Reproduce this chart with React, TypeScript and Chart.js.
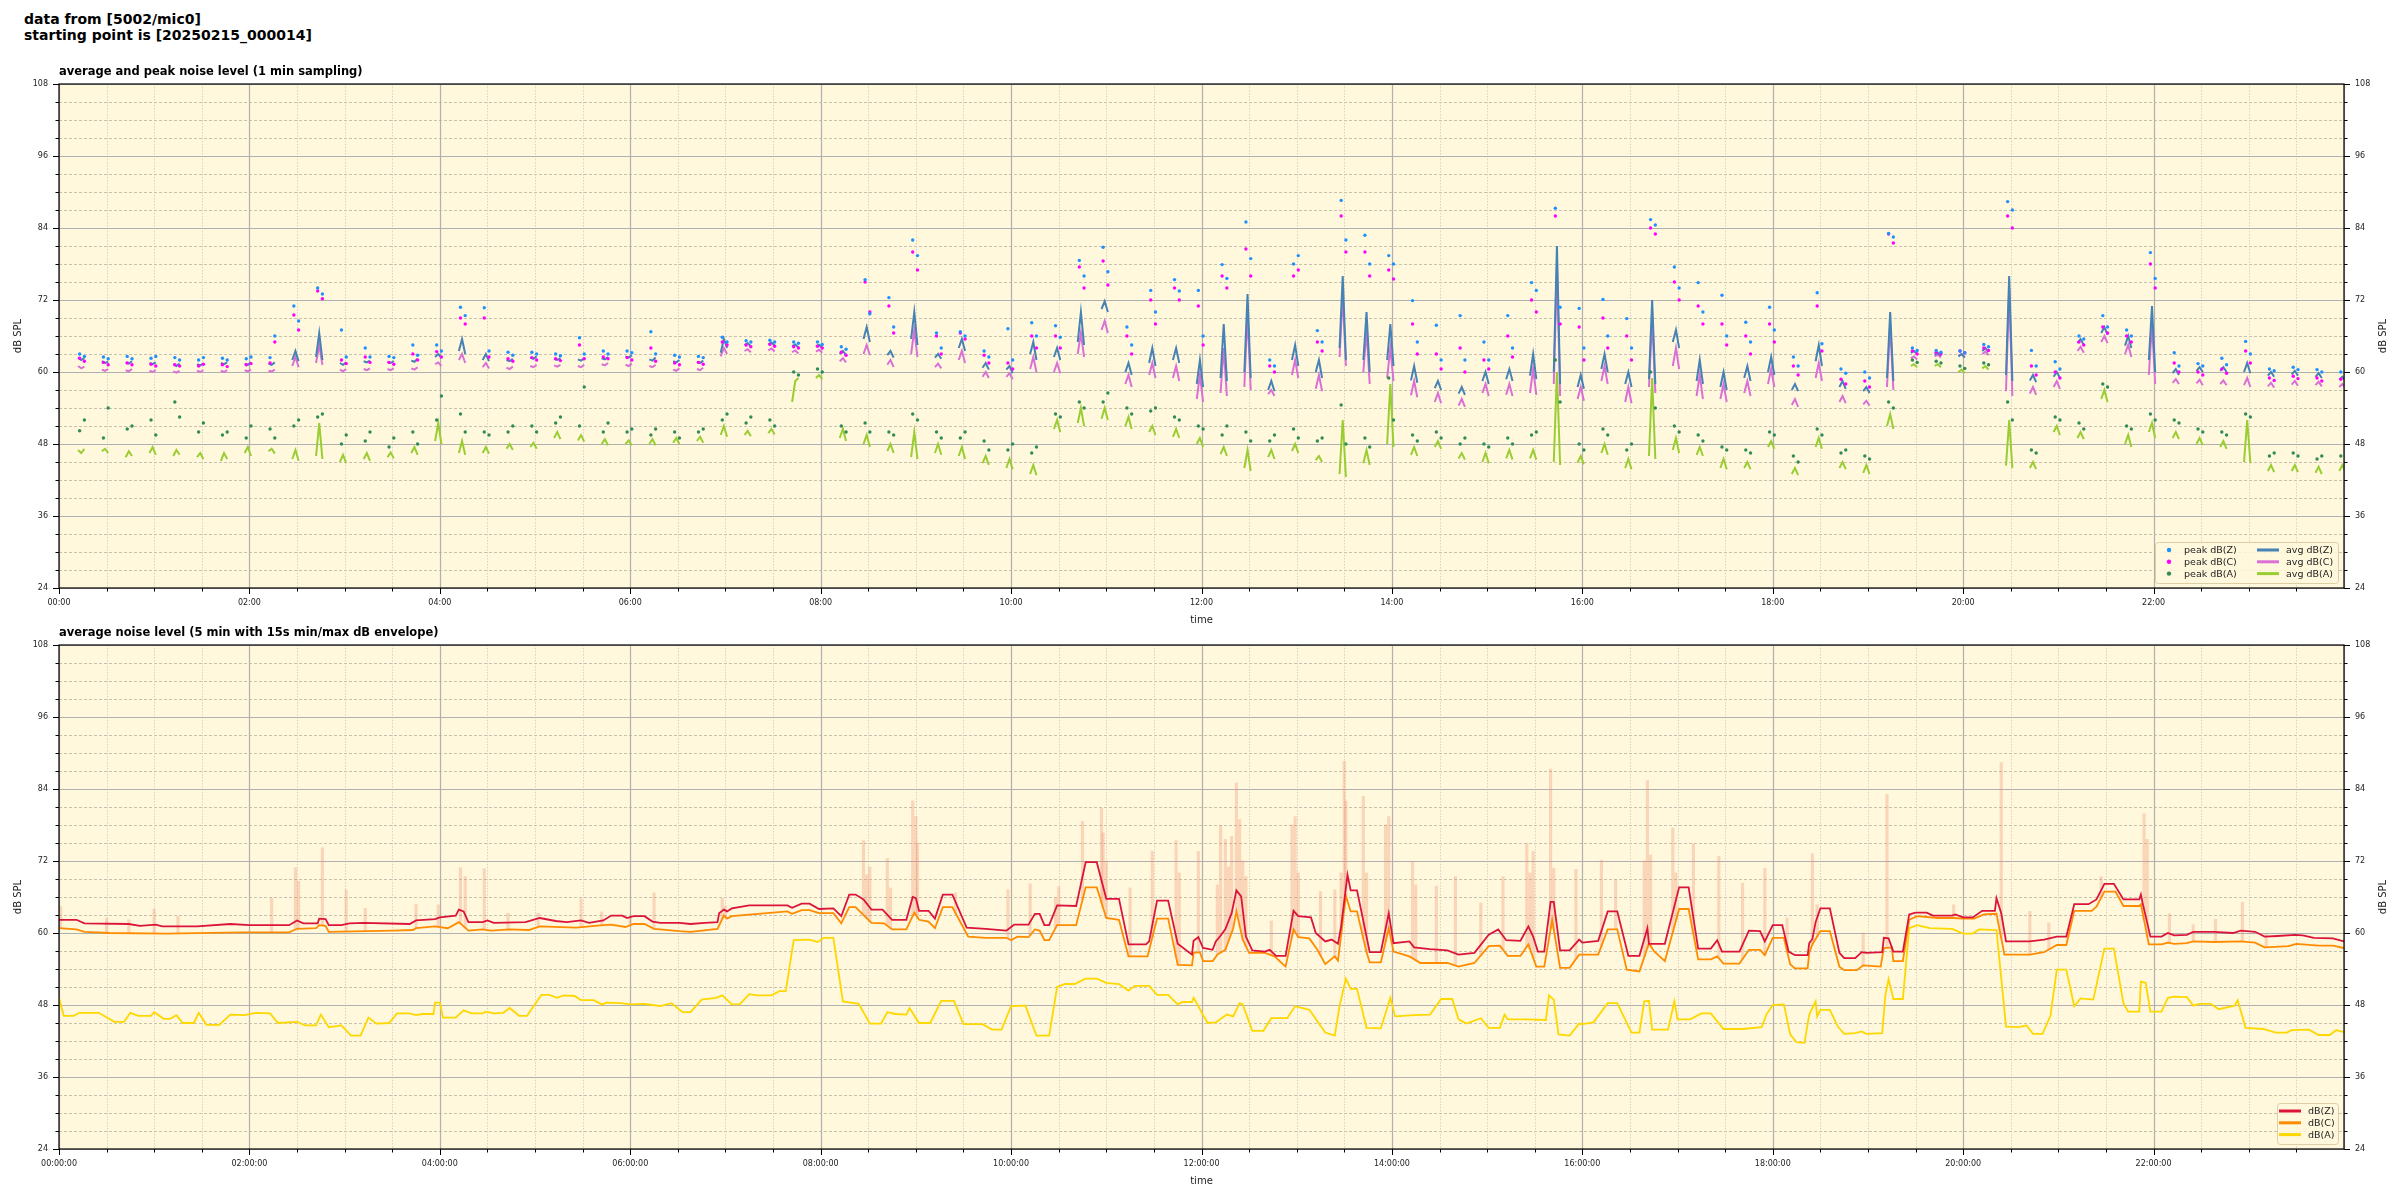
import React, { useEffect, useRef } from "react";
import { Chart, registerables } from "chart.js";

Chart.register(...registerables);

const FONT = "'DejaVu Sans', 'Liberation Sans', sans-serif";
const BG = "#fff8dc";

const Y_MIN = 24;
const Y_MAX = 108;
const Y_MAJOR = 12;
const Y_MINOR = 3;
const X_MIN = 0;
const X_MAX = 1440;
const X_MAJOR = 120;
const X_MINOR = 30;
const SAMPLE_STEP = 2; // minutes between drawn samples inside a cluster

const SUPTITLE = ["data from [5002/mic0]", "starting point is [20250215_000014]"];
const TOP_TITLE = "average and peak noise level (1 min sampling)";
const BOTTOM_TITLE = "average noise level (5 min with 15s min/max dB envelope)";
const Y_TITLE = "dB SPL";
const X_TITLE = "time";

// ---------- top chart: 1-minute samples, measured in clusters every 15 minutes ----------
const clusterStarts: number[] = Array.from({ length: 96 }, (_, k) => 12 + 15 * k);

const avgZ: number[][] = [
  [62.4,62.0,62.3],[61.8,61.5,61.7],[61.6,61.4,61.8],[61.5,61.3,61.6],[61.3,61.0,61.4],[61.3,61.1,61.4],[61.5,61.3,61.6],[61.4,61.2,61.6],
  [61.4,61.2,61.6],[62.0,63.5,61.8],[62.5,66.5,62.0],[61.5,61.2,61.6],[61.8,61.6,61.9],[61.7,61.5,61.8],[61.9,61.7,62.2],[62.5,63.0,62.3],
  [63.5,65.5,63.0],[62.0,63.0,61.8],[62.0,61.8,62.2],[62.4,62.2,62.6],[62.2,62.0,62.3],[62.1,61.9,62.3],[62.3,62.1,62.5],[62.6,62.4,62.8],
  [62.1,61.9,62.4],[61.8,61.6,62.0],[61.7,61.5,61.9],[63.2,65.5,64.0],[64.5,64.8,64.3],[64.6,64.9,64.4],[64.3,64.6,64.1],[64.3,64.5,64.0],
  [63.0,63.5,62.8],[65.5,67.5,65.0],[62.8,63.5,62.4],[65.5,70.0,64.5],[62.4,63.0,62.2],[64.0,65.5,63.5],[60.7,61.5,60.4],[60.4,61.0,59.8],
  [63.0,65.0,62.0],[62.5,64.0,62.0],[65.0,70.0,64.5],[70.5,71.8,70.0],[60.0,61.5,59.5],[61.5,64.0,61.0],[62.0,64.0,61.5],[58.0,62.0,57.5],
  [59.0,68.0,58.5],[60.0,73.0,59.0],[57.0,58.5,56.8],[62.0,64.5,61.0],[60.0,62.0,59.0],[64.0,76.0,62.0],[62.0,70.0,60.0],[62.0,68.0,61.0],
  [58.6,61.0,58.2],[57.3,58.5,57.0],[56.4,57.5,56.2],[58.5,60.0,58.0],[58.8,60.5,58.5],[59.4,63.0,58.8],[60.0,81.0,58.0],[57.5,59.5,57.2],
  [60.5,63.0,60.0],[58.0,60.0,57.5],[58.8,72.0,58.0],[65.0,67.0,64.0],[58.5,62.0,58.0],[57.5,60.0,57.0],[59.0,61.0,58.5],[60.0,62.5,59.5],
  [57.0,58.0,56.8],[61.8,64.5,61.0],[57.5,58.5,57.2],[56.8,57.5,56.5],[59.0,70.0,58.5],[63.2,63.5,63.0],[62.9,63.2,62.7],[62.6,63.0,62.4],
  [63.5,64.0,63.3],[59.5,76.0,58.5],[58.6,59.5,58.3],[59.2,60.0,59.0],[64.8,65.5,64.5],[66.5,67.5,66.2],[64.4,66.0,64.0],[62.0,71.0,60.0],
  [59.8,60.5,59.5],[60.2,60.8,60.0],[60.2,60.8,60.0],[60.0,61.5,59.8],[59.4,60.0,59.2],[59.6,60.2,59.4],[59.2,59.8,59.0],[58.7,59.2,58.5],
];

const avgC: number[][] = [
  [61.0,60.6,60.9],[60.4,60.2,60.5],[60.3,60.1,60.5],[60.2,60.0,60.3],[60.1,59.9,60.2],[60.2,60.0,60.3],[60.2,60.0,60.3],[60.3,60.1,60.4],
  [60.2,60.1,60.4],[61.0,62.5,60.8],[61.5,64.5,61.2],[60.4,60.1,60.5],[60.5,60.3,60.6],[60.5,60.3,60.6],[60.6,60.4,60.8],[61.3,61.6,61.0],
  [62.0,63.0,61.5],[60.8,61.5,60.6],[60.7,60.5,60.9],[61.0,60.8,61.2],[61.1,60.9,61.2],[61.0,60.8,61.2],[61.3,61.1,61.5],[61.2,61.0,61.4],
  [61.0,60.8,61.2],[60.4,60.2,60.6],[60.5,60.3,60.7],[62.6,64.0,63.0],[63.5,63.8,63.3],[63.6,63.9,63.4],[63.3,63.6,63.1],[63.4,63.7,63.2],
  [61.8,62.3,61.6],[63.0,64.5,62.8],[61.2,62.0,60.8],[63.0,67.0,62.5],[60.8,61.4,60.6],[62.0,63.5,61.5],[59.2,60.0,59.0],[59.2,59.8,58.8],
  [60.5,62.5,60.0],[60.0,61.5,59.8],[63.0,66.5,62.5],[67.0,68.5,66.5],[58.0,59.5,57.5],[59.5,61.5,59.0],[59.0,61.0,58.5],[55.5,59.5,55.0],
  [56.5,64.0,56.0],[57.5,70.0,57.0],[56.3,57.0,56.0],[59.5,62.0,59.0],[57.2,59.5,56.8],[62.5,73.0,61.0],[60.0,67.0,58.0],[59.0,64.0,58.5],
  [56.1,58.5,55.8],[55.0,56.5,54.8],[54.4,55.5,54.2],[56.5,58.0,56.0],[56.2,58.0,56.0],[56.5,60.5,56.2],[58.0,77.5,56.0],[55.5,57.5,55.2],
  [58.5,61.0,58.0],[55.0,57.5,54.8],[57.5,69.0,56.5],[61.0,64.0,60.5],[56.0,59.5,55.5],[55.5,58.0,55.0],[56.5,58.5,56.0],[58.0,60.5,57.5],
  [54.5,55.5,54.2],[59.0,61.5,58.5],[55.0,56.0,54.8],[54.6,55.2,54.4],[57.5,68.0,57.0],[62.3,62.6,62.1],[62.6,62.9,62.4],[62.7,63.0,62.5],
  [63.0,63.4,62.8],[56.8,74.0,56.0],[56.4,57.5,56.2],[57.5,58.5,57.2],[63.5,64.2,63.2],[65.0,66.0,64.8],[63.0,64.5,62.5],[59.5,68.0,58.0],
  [58.2,58.8,58.0],[58.1,58.7,57.8],[58.0,58.6,57.8],[57.8,59.0,57.5],[57.6,58.2,57.4],[57.9,58.5,57.7],[57.8,58.4,57.6],[57.5,58.0,57.3],
];

const avgA: number[][] = [
  [47.0,46.5,47.2],[46.8,47.2,46.5],[45.8,46.8,46.0],[46.5,47.5,46.2],[46.0,47.0,46.2],[45.8,46.5,45.5],[45.2,46.5,45.5],[46.5,47.5,46.0],
  [46.8,47.2,46.4],[45.5,47.0,45.2],[46.0,51.5,45.5],[45.0,46.2,44.8],[45.5,46.5,45.2],[45.8,46.6,45.6],[46.5,47.5,46.2],[48.5,51.5,48.0],
  [46.5,48.5,46.2],[46.5,47.5,46.4],[47.2,48.0,47.0],[47.5,48.2,47.2],[49.0,50.0,48.8],[48.6,49.5,48.4],[48.0,48.8,47.8],[48.0,48.6,47.8],
  [48.0,48.8,47.8],[48.2,49.0,48.0],[48.5,49.2,48.2],[49.5,51.0,49.2],[49.5,50.2,49.3],[49.8,50.5,49.6],[55.0,58.5,59.0],[59.0,59.5,58.8],
  [49.0,50.5,48.5],[48.0,49.5,47.5],[46.8,48.0,46.5],[45.8,50.0,45.5],[46.5,48.0,46.2],[46.0,47.5,45.5],[44.8,46.0,44.5],[44.0,45.5,43.8],
  [43.0,44.5,42.8],[50.5,52.0,50.0],[51.5,54.0,51.0],[52.2,54.0,52.0],[51.0,52.5,50.5],[50.0,51.0,49.5],[49.2,50.5,49.0],[48.0,49.0,47.5],
  [46.3,47.5,46.0],[44.0,47.0,43.5],[45.8,47.0,45.5],[46.8,48.0,46.5],[45.3,46.0,45.0],[43.0,52.0,42.5],[44.8,47.0,44.5],[48.0,58.0,47.5],
  [46.2,47.5,46.0],[47.5,48.5,47.2],[45.6,46.5,45.4],[45.0,46.5,44.8],[45.6,47.0,45.4],[45.6,47.0,45.4],[45.0,60.0,44.5],[44.9,46.0,44.6],
  [46.5,48.0,46.2],[44.0,45.5,43.8],[46.0,59.0,45.5],[47.0,49.0,46.5],[46.2,47.5,46.0],[44.0,45.5,43.8],[44.0,45.0,43.8],[47.5,48.5,47.2],
  [43.0,44.0,42.8],[47.5,49.0,47.2],[44.0,45.0,43.8],[43.2,44.5,43.0],[51.0,53.0,50.5],[61.0,61.3,60.8],[61.0,61.3,60.8],[60.0,60.4,59.8],
  [60.6,61.0,60.4],[44.4,52.0,44.0],[44.0,45.0,43.8],[50.0,51.0,49.5],[49.0,50.0,48.8],[55.5,57.0,55.0],[48.0,49.5,47.5],[50.0,51.5,49.0],
  [49.0,50.0,48.8],[48.0,49.0,47.8],[47.5,48.5,47.2],[45.0,52.0,44.8],[43.5,44.5,43.3],[43.5,44.5,43.3],[43.2,44.2,43.0],[43.5,44.5,43.3],
];

const peakZ: number[][] = [
  [63.0,62.6],[62.5,62.2],[62.6,62.2],[62.3,62.6],[62.4,62.0],[62.0,62.4],[62.3,62.0],[62.2,62.5],
  [62.4,66.0],[71.0,68.5],[74.0,73.0],[67.0,62.5],[64.0,62.5],[62.6,62.4],[64.5,62.8],[64.5,63.5],
  [70.8,69.4],[70.7,63.5],[63.3,62.8],[63.3,63.0],[63.0,62.7],[65.7,63.0],[63.5,63.0],[63.5,63.2],
  [66.7,63.0],[62.8,62.5],[62.6,62.4],[65.8,65.0],[65.2,65.0],[65.3,65.0],[65.0,64.8],[65.0,64.6],
  [64.2,63.8],[75.4,69.7],[72.4,67.5],[82.0,79.4],[66.5,64.0],[66.7,66.0],[63.5,62.5],[67.2,62.0],
  [68.2,66.0],[67.7,65.8],[78.6,76.0],[80.8,76.7],[67.5,64.5],[73.6,70.0],[75.4,73.5],[73.6,66.0],
  [77.9,75.6],[85.0,78.9],[62.0,61.0],[78.0,79.4],[66.9,65.0],[88.6,82.0],[82.8,78.0],[79.4,78.0],
  [71.9,65.0],[67.8,62.0],[69.4,62.0],[65.0,62.0],[69.4,64.0],[74.9,73.6],[87.3,70.8],[70.6,64.0],
  [72.1,66.0],[68.9,64.0],[85.4,84.5],[77.5,74.0],[74.9,70.0],[72.8,66.0],[68.3,65.0],[70.8,67.0],
  [62.5,61.0],[73.2,64.7],[60.5,59.8],[60.0,59.0],[83.1,82.5],[64.0,63.6],[63.6,63.3],[63.5,63.2],
  [64.6,64.2],[88.4,87.0],[63.6,61.0],[61.7,60.5],[66.0,65.5],[69.4,67.5],[67.0,66.0],[79.9,75.6],
  [63.2,61.0],[61.4,61.0],[62.3,61.2],[65.1,63.0],[60.5,60.2],[60.8,60.4],[60.4,60.0],[60.0,59.6],
];

const peakC: number[][] = [
  [62.3,61.8],[61.6,61.2],[61.5,61.2],[61.3,61.0],[61.2,61.0],[61.0,61.3],[61.2,60.9],[61.2,61.4],
  [61.5,65.0],[69.5,67.0],[73.5,72.2],[62.0,61.4],[62.5,61.6],[61.6,61.3],[63.0,62.0],[63.4,62.5],
  [69.0,68.0],[69.0,62.5],[62.2,61.8],[62.4,62.0],[62.2,61.9],[64.5,62.2],[62.5,62.2],[62.4,62.0],
  [64.0,61.8],[61.5,61.2],[61.6,61.3],[65.0,64.5],[64.5,64.2],[64.6,64.3],[64.2,64.0],[64.3,64.0],
  [63.3,62.8],[75.0,70.0],[71.0,66.5],[80.0,77.0],[66.0,63.0],[66.5,65.5],[62.8,61.5],[61.5,60.5],
  [66.0,64.0],[66.0,64.0],[77.5,74.0],[78.5,74.5],[66.0,63.0],[72.0,68.0],[74.0,72.0],[71.0,64.5],
  [76.0,74.0],[80.5,76.0],[61.0,60.0],[76.0,77.0],[65.0,63.5],[86.0,80.0],[80.0,76.0],[77.0,75.5],
  [68.0,63.0],[63.0,60.5],[64.0,60.0],[62.0,60.5],[66.0,62.5],[72.0,70.0],[86.0,68.0],[67.5,62.0],
  [69.0,64.0],[66.0,62.0],[84.0,83.0],[75.0,72.0],[71.0,68.0],[68.0,64.5],[66.0,63.0],[68.0,65.0],
  [61.0,59.5],[71.0,63.5],[58.8,58.0],[58.5,57.5],[83.0,81.5],[63.5,63.0],[63.3,63.0],[63.5,63.2],
  [64.0,63.6],[86.0,84.0],[61.0,59.5],[60.0,59.0],[65.0,64.5],[67.5,66.5],[66.0,65.0],[78.0,74.0],
  [61.5,60.0],[60.0,59.5],[60.5,59.8],[63.5,61.5],[59.0,58.6],[59.3,58.9],[59.0,58.5],[58.8,58.4],
];

const peakA: number[][] = [
  [50.2,52.0],[49.0,54.0],[50.5,51.0],[52.0,49.5],[55.0,52.5],[50.0,51.5],[49.5,50.0],[49.0,51.0],
  [50.5,49.0],[51.0,52.0],[52.5,53.0],[48.0,49.5],[48.5,50.0],[47.5,49.0],[50.0,48.0],[52.0,56.0],
  [53.0,50.0],[50.0,49.5],[50.0,51.0],[51.0,50.0],[51.5,52.5],[51.0,57.5],[50.0,51.5],[50.0,50.5],
  [49.5,50.5],[50.0,49.0],[50.0,50.5],[52.0,53.0],[51.5,52.5],[52.0,51.0],[60.0,59.5],[60.5,60.0],
  [51.0,50.0],[51.5,50.0],[50.0,49.5],[53.0,52.0],[50.0,49.0],[49.0,50.0],[48.5,47.0],[47.0,48.0],
  [46.5,47.5],[53.0,52.5],[55.0,54.0],[55.0,56.5],[54.0,53.0],[53.5,54.0],[52.5,52.0],[51.0,50.5],
  [49.5,51.0],[50.0,48.5],[48.5,49.5],[50.5,49.0],[48.5,49.0],[54.5,48.0],[49.0,47.5],[59.0,52.0],
  [49.5,48.5],[50.0,49.0],[48.0,49.0],[48.0,47.5],[49.0,48.0],[49.5,50.0],[62.0,55.0],[48.0,47.0],
  [50.5,49.5],[47.0,48.0],[60.0,54.0],[51.0,50.0],[49.5,48.5],[47.5,47.0],[47.0,46.5],[50.0,49.5],
  [46.0,45.0],[50.5,49.5],[46.5,47.0],[46.0,45.5],[55.0,54.0],[62.0,61.6],[61.8,61.5],[61.0,60.6],
  [61.5,61.2],[55.0,52.0],[47.0,46.5],[52.5,52.0],[51.5,50.5],[58.0,57.5],[51.0,50.5],[53.0,52.0],
  [52.0,51.5],[50.5,50.0],[50.0,49.5],[53.0,52.5],[46.0,46.5],[46.5,46.0],[45.5,46.0],[46.0,45.5],
];

// ---------- bottom chart: 5-minute averages [minute, dB] ----------
const dbZ5: [number, number][] = [
  [0,62.2],[11,62.2],[16,61.6],[44,61.5],[51,61.2],[61,61.4],[65,61.1],[87,61.1],[108,61.5],[120,61.3],[145,61.3],[150,62.1],
  [154,61.6],[163,61.6],[164,62.4],[168,62.3],[170,61.3],[178,61.3],[183,61.6],[192,61.7],[221,61.5],[225,62.1],[237,62.3],[240,62.6],
  [250,62.9],[252,63.9],[255,63.6],[258,61.8],[267,61.8],[270,62.1],[274,61.7],[294,61.8],[303,62.5],[313,62.0],[320,61.8],[329,62.1],
  [334,61.7],[343,62.1],[348,62.9],[355,62.9],[358,62.5],[362,62.8],[369,62.8],[374,61.9],[379,61.7],[391,61.7],[398,61.5],[407,61.7],
  [415,61.8],[416,63.3],[419,63.9],[421,63.6],[424,64.1],[435,64.6],[459,64.6],[462,64.2],[468,64.9],[473,64.9],[479,64.0],[488,64.1],
  [493,62.8],[498,66.4],[502,66.4],[507,65.6],[512,63.9],[519,63.9],[525,62.2],[534,62.2],[538,66.0],[540,65.8],[542,63.7],[548,63.7],
  [552,62.4],[557,66.4],[563,66.4],[572,60.9],[584,60.7],[597,60.4],[599,60.8],[602,61.4],[611,61.4],[615,63.2],[618,63.2],[621,61.3],
  [624,61.3],[629,64.6],[641,64.5],[647,71.8],[654,71.8],[660,65.7],[668,65.7],[674,58.1],[685,58.1],[687,58.6],[692,65.4],[699,65.4],
  [705,58.2],[714,56.4],[715,58.7],[718,59.3],[721,57.5],[727,57.2],[729,58.6],[731,59.2],[735,60.6],[739,63.3],[742,67.1],[745,66.1],
  [748,59.4],[752,57.1],[760,56.9],[763,57.2],[767,56.2],[773,56.2],[778,63.7],[781,62.8],[789,62.6],[792,60.0],[798,58.6],[802,58.9],
  [806,58.2],[808,61.1],[812,69.7],[814,67.1],[818,67.1],[821,63.3],[826,56.8],[833,56.8],[838,63.3],[841,58.3],[851,58.6],[854,57.6],
  [864,57.3],[875,57.1],[882,56.4],[892,56.7],[901,59.7],[907,60.6],[912,58.8],[921,58.7],[926,61.1],[929,59.4],[932,56.9],[936,56.9],
  [940,65.2],[942,65.2],[946,57.1],[952,57.1],[958,58.9],[960,58.4],[970,58.7],[976,63.6],[982,63.6],[989,56.2],[996,56.2],[1001,60.8],
  [1002,58.2],[1012,58.2],[1021,67.6],[1027,67.6],[1033,57.4],[1041,57.4],[1045,58.8],[1048,56.9],[1059,56.9],[1065,60.4],[1072,60.3],
  [1075,58.6],[1080,61.3],[1086,61.3],[1090,56.9],[1094,56.3],[1102,56.3],[1103,58.3],[1105,59.0],[1107,61.8],[1110,64.1],[1116,64.1],
  [1122,56.7],[1125,55.8],[1132,55.8],[1136,56.8],[1139,56.7],[1149,56.8],[1150,59.2],[1153,59.1],[1156,56.9],[1162,56.9],[1166,63.1],
  [1170,63.4],[1177,63.4],[1181,62.9],[1193,62.9],[1195,63.1],[1200,62.6],[1206,62.6],[1212,63.7],[1220,63.7],[1221,65.8],[1224,63.3],
  [1227,58.6],[1242,58.6],[1251,58.9],[1259,59.4],[1265,59.4],[1270,64.8],[1279,64.8],[1284,65.6],[1289,68.2],[1295,68.2],[1301,65.6],
  [1311,65.6],[1312,66.4],[1313,65.1],[1318,59.4],[1325,59.4],[1329,60.0],[1333,59.6],[1341,59.7],[1345,60.2],[1358,60.2],[1370,60.0],
  [1375,60.4],[1384,60.2],[1390,59.4],[1398,59.5],[1409,59.7],[1414,59.6],[1421,59.2],[1433,59.1],[1440,58.6],
];

const dbC5: [number, number][] = [
  [0,60.8],[11,60.6],[16,60.2],[32,60.0],[68,59.9],[115,60.1],[145,60.1],[150,60.7],[162,60.8],[164,61.3],[168,61.2],[170,60.2],
  [210,60.4],[223,60.5],[225,60.8],[237,61.1],[245,60.8],[252,61.8],[258,60.4],[267,60.6],[272,60.4],[284,60.6],[296,60.5],[303,61.1],
  [326,60.9],[343,61.3],[348,61.4],[357,61.0],[362,61.5],[369,61.5],[375,60.7],[391,60.3],[398,60.2],[415,60.7],[419,62.9],[421,62.4],
  [424,62.8],[459,63.6],[462,63.2],[468,63.8],[473,63.8],[479,63.3],[488,63.3],[493,61.6],[498,64.3],[502,64.3],[512,61.7],[520,61.6],
  [525,60.6],[534,60.6],[539,63.4],[542,62.2],[548,61.9],[552,60.8],[557,64.3],[563,64.3],[573,59.4],[584,59.2],[597,59.2],[600,58.8],
  [604,59.4],[611,59.3],[615,60.6],[618,60.4],[621,58.8],[624,58.8],[629,61.3],[641,61.3],[647,67.6],[654,67.6],[660,62.5],[668,62.2],
  [674,56.1],[686,56.1],[692,62.4],[699,62.4],[705,54.7],[714,54.6],[715,56.7],[719,56.8],[721,55.3],[727,55.3],[730,56.4],[735,57.2],
  [740,60.8],[742,63.6],[746,58.9],[750,56.7],[760,56.7],[766,56.1],[773,54.4],[778,60.6],[781,59.3],[788,59.1],[793,57.2],[798,54.8],
  [804,56.1],[806,55.4],[811,66.2],[814,63.6],[818,63.6],[824,56.8],[826,55.1],[833,55.1],[838,60.8],[841,56.9],[851,56.1],[858,55.0],
  [875,55.0],[882,54.4],[892,55.0],[901,57.8],[908,57.9],[913,56.2],[921,56.2],[926,58.1],[931,54.4],[936,54.4],[941,62.2],[946,54.2],
  [952,54.2],[958,56.4],[970,56.4],[976,60.6],[982,60.6],[988,53.9],[996,53.6],[1002,58.3],[1005,57.0],[1012,55.3],[1021,64.0],[1027,64.0],
  [1033,55.6],[1041,55.6],[1045,56.1],[1049,54.9],[1059,54.9],[1065,57.2],[1072,57.2],[1075,56.3],[1080,59.2],[1087,59.2],[1091,54.8],
  [1094,54.1],[1102,54.1],[1103,56.7],[1105,58.1],[1107,59.0],[1110,60.3],[1116,60.3],[1122,54.4],[1125,53.8],[1133,53.8],[1137,54.6],
  [1148,54.4],[1150,57.5],[1155,57.6],[1156,55.3],[1162,55.3],[1166,62.2],[1171,62.8],[1184,62.5],[1194,62.5],[1200,62.4],[1207,62.4],
  [1213,63.1],[1221,63.2],[1226,56.4],[1242,56.4],[1251,56.8],[1259,58.0],[1265,58.0],[1270,63.7],[1281,63.7],[1284,64.4],[1289,66.9],
  [1296,66.9],[1301,64.5],[1311,64.5],[1312,64.8],[1317,58.1],[1325,58.1],[1329,58.4],[1333,58.2],[1341,58.3],[1345,58.6],[1358,58.5],
  [1375,58.6],[1384,58.4],[1390,57.6],[1405,57.8],[1410,58.2],[1424,57.9],[1433,57.9],[1440,57.5],
];

const dbA5: [number, number][] = [
  [0,49.2],[3,46.2],[9,46.2],[13,46.7],[25,46.7],[35,45.2],[41,45.2],[45,46.7],[50,46.2],[58,46.2],[60,46.8],[66,45.7],[70,45.7],
  [74,46.3],[78,45.0],[85,45.0],[88,46.7],[93,44.7],[101,44.7],[108,46.4],[117,46.3],[124,46.7],[133,46.6],[138,45.0],[150,45.2],
  [155,44.6],[162,44.6],[165,46.4],[170,44.3],[178,44.6],[184,42.9],[190,42.9],[195,45.9],[200,44.9],[208,45.0],[213,46.6],[221,46.6],
  [225,46.3],[229,46.5],[236,46.5],[237,48.4],[240,48.4],[242,45.9],[250,45.9],[255,47.1],[260,46.6],[267,46.6],[269,46.9],[274,46.6],
  [280,46.7],[284,47.5],[290,46.2],[295,46.2],[304,49.7],[309,49.7],[314,49.2],[318,49.6],[325,49.5],[329,48.8],[337,48.8],[342,48.1],
  [345,48.4],[354,48.3],[360,48.1],[369,48.2],[374,48.0],[379,47.8],[386,48.3],[393,46.8],[398,46.8],[405,48.9],[414,49.2],[418,49.6],
  [424,48.1],[429,48.1],[435,49.8],[440,49.6],[449,49.6],[454,50.3],[458,50.3],[463,58.8],[473,58.9],[478,58.5],[482,59.2],[488,59.2],
  [494,48.6],[504,48.2],[511,44.9],[518,44.9],[522,46.8],[527,46.5],[534,46.4],[536,47.5],[542,45.0],[549,45.0],[556,48.7],[564,48.7],
  [570,44.8],[582,44.8],[588,43.9],[594,43.9],[600,47.8],[609,47.9],[616,42.9],[624,42.9],[629,51.0],[634,51.5],[640,51.5],[647,52.4],
  [654,52.4],[660,51.7],[668,51.5],[674,50.4],[678,51.2],[687,51.2],[692,49.7],[699,49.7],[705,48.1],[708,48.5],[714,48.5],[715,49.2],
  [717,48.3],[721,46.3],[724,45.0],[729,45.1],[736,46.4],[740,46.1],[744,48.3],[746,48.1],[752,43.7],[759,43.7],[764,45.8],[774,45.8],
  [779,47.8],[788,47.2],[793,45.3],[798,43.4],[804,42.9],[807,47.8],[811,52.4],[814,50.7],[818,50.7],[824,44.2],[833,44.1],[839,49.2],
  [842,46.1],[854,46.3],[864,46.4],[871,49.0],[878,49.0],[882,45.6],[887,44.9],[896,45.8],[901,44.2],[908,44.2],[911,46.4],[913,45.6],
  [925,45.6],[937,45.5],[939,49.6],[942,48.9],[945,43.1],[952,42.9],[958,44.9],[960,44.8],[967,45.1],[976,48.3],[982,48.3],[991,43.4],
  [996,43.4],[999,48.6],[1002,48.7],[1004,43.9],[1014,43.9],[1018,48.6],[1020,45.6],[1028,45.6],[1035,46.6],[1041,46.6],[1049,44.0],
  [1061,44.0],[1073,44.3],[1076,46.4],[1080,48.0],[1087,48.1],[1091,43.1],[1095,41.8],[1100,41.7],[1103,46.4],[1107,48.6],[1108,46.1],
  [1110,47.2],[1116,47.2],[1121,44.4],[1125,43.2],[1132,43.3],[1136,43.6],[1139,43.2],[1149,43.3],[1151,49.7],[1153,52.3],[1156,49.0],
  [1162,49.0],[1166,60.8],[1171,61.3],[1179,60.8],[1193,60.7],[1200,59.9],[1206,59.9],[1210,60.6],[1221,60.5],[1227,44.4],[1235,44.3],
  [1240,44.6],[1244,43.2],[1250,43.2],[1255,46.2],[1259,53.9],[1265,53.9],[1270,47.8],[1274,49.1],[1282,48.9],[1289,57.4],[1295,57.4],
  [1301,48.3],[1304,46.9],[1311,46.9],[1312,51.9],[1315,51.7],[1318,46.9],[1325,46.9],[1329,49.2],[1333,49.4],[1341,49.3],[1345,47.9],
  [1349,48.2],[1356,48.2],[1361,47.3],[1371,47.9],[1373,48.8],[1378,44.2],[1389,44.0],[1397,43.4],[1404,43.4],[1407,43.8],[1418,43.9],
  [1424,43.0],[1431,43.0],[1435,43.8],[1440,43.5],
];

// 15 s envelope maxima (spikes) [minute, max dB]
const envMax: [number, number][] = [
  [1,64.4],[30,62.5],[44,62.2],[60,64.0],[75,62.8],[134,65.8],[149,70.9],[151,68.6],[166,74.2],[181,67.2],[193,64.1],[225,64.8],
  [239,64.7],[253,70.9],[256,69.4],[268,70.7],[283,63.3],[302,63.3],[329,65.7],[342,63.5],[360,62.8],[375,66.7],[418,65.8],[420,64.5],
  [507,75.4],[509,69.7],[511,71.0],[522,72.4],[524,67.5],[538,82.0],[540,79.4],[541,75.0],[565,66.7],[598,67.2],[612,68.2],[628,65.8],
  [630,67.7],[645,78.6],[657,80.8],[658,76.7],[660,72.0],[675,67.5],[689,73.6],[704,75.4],[706,70.0],[718,73.6],[730,68.0],[732,77.9],
  [735,75.6],[737,71.0],[739,76.1],[742,85.0],[744,78.9],[746,72.0],[748,69.4],[764,62.0],[777,78.0],[779,79.4],[781,70.0],[795,66.9],
  [804,67.2],[808,70.0],[810,88.6],[811,82.0],[822,82.8],[824,70.0],[836,78.0],[838,79.4],[853,71.9],[855,68.0],[868,67.8],[880,69.4],
  [896,65.0],[910,69.4],[925,74.9],[927,70.0],[929,73.6],[940,87.3],[942,70.8],[956,70.6],[972,72.1],[981,68.9],[999,72.0],[1001,85.4],
  [1003,73.0],[1017,77.5],[1019,70.0],[1030,74.9],[1046,72.8],[1061,68.3],[1075,70.8],[1089,62.5],[1105,73.2],[1108,64.7],[1137,60.0],
  [1152,83.1],[1194,64.7],[1224,88.4],[1242,63.6],[1254,61.7],[1287,69.4],[1314,79.9],[1316,75.6],[1330,63.2],[1345,61.4],[1359,62.3],
  [1376,65.1],[1391,59.8],
];

// ---------- helpers ----------
const pad2 = (n: number) => String(n).padStart(2, "0");
const fmtHM = (v: number) => `${pad2(Math.floor(v / 60))}:${pad2(v % 60)}`;
const fmtHMS = (v: number) => `${fmtHM(v)}:00`;

function clusterLine(values: number[][]) {
  const pts: any[] = [];
  values.forEach((vals, k) => {
    const t0 = clusterStarts[k];
    vals.forEach((v, i) => pts.push({ x: t0 + i * SAMPLE_STEP, y: v }));
    pts.push({ x: t0 + vals.length * SAMPLE_STEP, y: null });
  });
  return pts;
}

function clusterPoints(values: number[][]) {
  const pts: any[] = [];
  values.forEach((vals, k) => {
    const t0 = clusterStarts[k];
    vals.forEach((v, i) => pts.push({ x: t0 + SAMPLE_STEP * 0.5 + i * SAMPLE_STEP * 1.5, y: v }));
  });
  return pts;
}

function interpAt(series: [number, number][], t: number) {
  for (let i = 0; i < series.length - 1; i++) {
    const [t0, v0] = series[i];
    const [t1, v1] = series[i + 1];
    if (t >= t0 && t <= t1) return t1 === t0 ? v0 : v0 + ((v1 - v0) * (t - t0)) / (t1 - t0);
  }
  return series[series.length - 1][1];
}

const pairs = (s: [number, number][]) => s.map(([x, y]) => ({ x, y }));

function line(ctx: CanvasRenderingContext2D, x1: number, y1: number, x2: number, y2: number) {
  ctx.beginPath();
  ctx.moveTo(x1, y1);
  ctx.lineTo(x2, y2);
  ctx.stroke();
}

type LegendItem = { label: string; color: string; kind: "dot" | "line" };

function makeDecor(opts: {
  title: string;
  legend: { boxW: number; cols: LegendItem[][]; colX: number[] };
}) {
  return {
    id: "mplDecor",
    beforeDatasetsDraw(chart: any) {
      const { ctx, chartArea: a, scales } = chart;
      const xs = scales.x;
      const ys = scales.y;
      ctx.save();
      ctx.fillStyle = BG;
      ctx.fillRect(a.left, a.top, a.right - a.left, a.bottom - a.top);
      ctx.lineWidth = 0.8;
      ctx.strokeStyle = "#b9b4a4";
      ctx.setLineDash([3, 2]);
      for (let v = Y_MIN; v <= Y_MAX; v += Y_MINOR) {
        if (v % Y_MAJOR === 0) continue;
        const py = Math.round(ys.getPixelForValue(v)) + 0.5;
        line(ctx, a.left, py, a.right, py);
      }
      ctx.strokeStyle = "#cfcab8";
      ctx.setLineDash([1.5, 1.5]);
      for (let v = X_MIN; v <= X_MAX; v += X_MINOR) {
        if (v % X_MAJOR === 0) continue;
        const px = Math.round(xs.getPixelForValue(v)) + 0.5;
        line(ctx, px, a.top, px, a.bottom);
      }
      ctx.setLineDash([]);
      ctx.strokeStyle = "#b0b0b0";
      ctx.lineWidth = 1.2;
      for (let v = Y_MIN; v <= Y_MAX; v += Y_MAJOR) {
        const py = Math.round(ys.getPixelForValue(v)) + 0.5;
        line(ctx, a.left, py, a.right, py);
      }
      for (let v = X_MIN; v <= X_MAX; v += X_MAJOR) {
        const px = Math.round(xs.getPixelForValue(v)) + 0.5;
        line(ctx, px, a.top, px, a.bottom);
      }
      ctx.restore();
    },
    afterDatasetsDraw(chart: any) {
      const { ctx, chartArea: a, scales } = chart;
      const xs = scales.x;
      const ys = scales.y;
      ctx.save();
      ctx.strokeStyle = "#000";
      ctx.lineWidth = 1.2;
      ctx.setLineDash([]);
      ctx.strokeRect(a.left, a.top, a.right - a.left, a.bottom - a.top);
      ctx.lineWidth = 1;
      for (let v = Y_MIN; v <= Y_MAX; v += Y_MINOR) {
        const len = v % Y_MAJOR === 0 ? 6 : 3.5;
        const py = Math.round(ys.getPixelForValue(v)) + 0.5;
        line(ctx, a.left - len, py, a.left, py);
        line(ctx, a.right, py, a.right + len, py);
      }
      for (let v = X_MIN; v < X_MAX; v += X_MINOR) {
        const len = v % X_MAJOR === 0 ? 6 : 3.5;
        const px = Math.round(xs.getPixelForValue(v)) + 0.5;
        line(ctx, px, a.bottom, px, a.bottom + len);
      }
      // legend
      const L = opts.legend;
      const bx = a.right - 6 - L.boxW;
      const by = a.bottom - 46;
      const bw = L.boxW;
      const bh = 41;
      ctx.fillStyle = "rgba(255,248,220,0.85)";
      ctx.strokeStyle = "#dfcda4";
      ctx.lineWidth = 1;
      ctx.beginPath();
      (ctx as any).roundRect(bx + 0.5, by + 0.5, bw, bh, 3);
      ctx.fill();
      ctx.stroke();
      ctx.font = `9.5px ${FONT}`;
      ctx.textBaseline = "middle";
      ctx.textAlign = "left";
      L.cols.forEach((col, ci) => {
        const cx = bx + L.colX[ci];
        col.forEach((it, ri) => {
          const ry = by + 8 + ri * 11.8;
          if (it.kind === "dot") {
            ctx.fillStyle = it.color;
            ctx.beginPath();
            ctx.arc(cx + 14, ry, 2.2, 0, Math.PI * 2);
            ctx.fill();
          } else {
            ctx.strokeStyle = it.color;
            ctx.lineWidth = 3;
            line(ctx, cx, ry, cx + 22, ry);
          }
          ctx.fillStyle = "#222";
          ctx.fillText(it.label, cx + 29, ry + 0.5);
        });
      });
      ctx.restore();
    },
    afterDraw(chart: any) {
      const { ctx, chartArea: a } = chart;
      ctx.save();
      ctx.fillStyle = "#000";
      ctx.font = `bold 11.5px ${FONT}`;
      ctx.textAlign = "left";
      ctx.textBaseline = "alphabetic";
      ctx.fillText(opts.title, a.left, a.top - 9);
      ctx.font = `10px ${FONT}`;
      ctx.fillStyle = "#222";
      ctx.textAlign = "center";
      ctx.textBaseline = "middle";
      ctx.fillText(X_TITLE, (a.left + a.right) / 2, a.bottom + 32);
      const midY = (a.top + a.bottom) / 2;
      ctx.save();
      ctx.translate(18, midY);
      ctx.rotate(-Math.PI / 2);
      ctx.fillText(Y_TITLE, 0, 0);
      ctx.restore();
      ctx.save();
      ctx.translate(chart.width - 17, midY);
      ctx.rotate(-Math.PI / 2);
      ctx.fillText(Y_TITLE, 0, 0);
      ctx.restore();
      ctx.restore();
    },
  };
}

function makeScales(xHeight: number, fmt: (v: number) => string) {
  const tickFont = { family: FONT, size: 8 };
  const yBase = {
    type: "linear",
    min: Y_MIN,
    max: Y_MAX,
    grid: { display: false, drawTicks: false },
    border: { display: false },
    ticks: { stepSize: Y_MAJOR, padding: 11, color: "#222", font: tickFont },
  };
  return {
    x: {
      type: "linear",
      min: X_MIN,
      max: X_MAX,
      offset: false,
      grid: { display: false, drawTicks: false, offset: false },
      border: { display: false },
      ticks: {
        stepSize: X_MAJOR,
        autoSkip: false,
        maxRotation: 0,
        minRotation: 0,
        padding: 10,
        color: "#222",
        font: tickFont,
        callback: (v: number) => (v % X_MAJOR === 0 && v < X_MAX ? fmt(v) : ""),
      },
      afterFit: (s: any) => {
        s.height = xHeight;
      },
    },
    y: {
      ...yBase,
      position: "left",
      afterFit: (s: any) => {
        s.width = 59;
      },
    },
    yR: {
      ...yBase,
      position: "right",
      afterFit: (s: any) => {
        s.width = 56;
      },
    },
  };
}

function topConfig(): any {
  const pt = (label: string, data: number[][], color: string) => ({
    label,
    type: "line",
    data: clusterPoints(data),
    showLine: false,
    pointRadius: 1.7,
    pointHoverRadius: 1.7,
    pointBorderWidth: 0,
    pointBackgroundColor: color,
    borderColor: color,
    backgroundColor: color,
  });
  const ln = (label: string, data: number[][], color: string) => ({
    label,
    type: "line",
    data: clusterLine(data),
    borderColor: color,
    backgroundColor: color,
    borderWidth: 2,
    pointRadius: 0,
    spanGaps: false,
    tension: 0,
  });
  return {
    type: "line",
    data: {
      datasets: [
        pt("peak dB(Z)", peakZ, "#1e90ff"),
        pt("peak dB(C)", peakC, "#ff00ff"),
        pt("peak dB(A)", peakA, "#2e8b57"),
        ln("avg dB(Z)", avgZ, "#4682b4"),
        ln("avg dB(C)", avgC, "#da70d6"),
        ln("avg dB(A)", avgA, "#9acd32"),
      ],
    },
    options: {
      responsive: false,
      animation: false,
      events: [],
      layout: { padding: { top: 34, left: 0, right: 0, bottom: 0 } },
      scales: makeScales(42, fmtHM),
      plugins: { legend: { display: false }, tooltip: { enabled: false }, title: { display: false } },
    },
    plugins: [
      makeDecor({
        title: TOP_TITLE,
        legend: {
          boxW: 183,
          colX: [0, 102],
          cols: [
            [
              { label: "peak dB(Z)", color: "#1e90ff", kind: "dot" },
              { label: "peak dB(C)", color: "#ff00ff", kind: "dot" },
              { label: "peak dB(A)", color: "#2e8b57", kind: "dot" },
            ],
            [
              { label: "avg dB(Z)", color: "#4682b4", kind: "line" },
              { label: "avg dB(C)", color: "#da70d6", kind: "line" },
              { label: "avg dB(A)", color: "#9acd32", kind: "line" },
            ],
          ],
        },
      }),
    ],
  };
}

function bottomConfig(): any {
  const ln = (label: string, data: [number, number][], color: string) => ({
    label,
    type: "line",
    data: pairs(data),
    borderColor: color,
    backgroundColor: color,
    borderWidth: 1.8,
    pointRadius: 0,
    tension: 0,
  });
  return {
    type: "line",
    data: {
      datasets: [
        ln("dB(Z)", dbZ5, "#dc143c"),
        ln("dB(C)", dbC5, "#ff8c00"),
        ln("dB(A)", dbA5, "#ffd700"),
        {
          label: "envelope",
          type: "bar",
          data: envMax.map(([t, hi]) => ({ x: t, y: [interpAt(dbC5, t), hi] })),
          backgroundColor: "rgba(240,140,110,0.32)",
          borderWidth: 0,
          barThickness: 2.5,
          grouped: false,
        },
      ],
    },
    options: {
      responsive: false,
      animation: false,
      events: [],
      layout: { padding: { top: 30, left: 0, right: 0, bottom: 0 } },
      scales: makeScales(51, fmtHMS),
      plugins: { legend: { display: false }, tooltip: { enabled: false }, title: { display: false } },
    },
    plugins: [
      makeDecor({
        title: BOTTOM_TITLE,
        legend: {
          boxW: 61,
          colX: [2],
          cols: [
            [
              { label: "dB(Z)", color: "#dc143c", kind: "line" },
              { label: "dB(C)", color: "#ff8c00", kind: "line" },
              { label: "dB(A)", color: "#ffd700", kind: "line" },
            ],
          ],
        },
      }),
    ],
  };
}

export default function App() {
  const topRef = useRef<HTMLCanvasElement>(null);
  const botRef = useRef<HTMLCanvasElement>(null);
  useEffect(() => {
    const c1 = new Chart(topRef.current as HTMLCanvasElement, topConfig());
    const c2 = new Chart(botRef.current as HTMLCanvasElement, bottomConfig());
    return () => {
      c1.destroy();
      c2.destroy();
    };
  }, []);
  return (
    <div style={{ position: "absolute", left: 0, top: 0, width: 2400, height: 1200, background: "#fff", overflow: "hidden" }}>
      <div
        style={{
          position: "absolute",
          left: 24,
          top: 11,
          font: `bold 14px ${FONT}`,
          lineHeight: "16px",
          color: "#000",
          whiteSpace: "pre",
        }}
      >
        {SUPTITLE[0]}
        <br />
        {SUPTITLE[1]}
      </div>
      <canvas
        ref={topRef}
        width={2400}
        height={580}
        style={{ position: "absolute", left: 0, top: 50, width: 2400, height: 580 }}
      />
      <canvas
        ref={botRef}
        width={2400}
        height={585}
        style={{ position: "absolute", left: 0, top: 615, width: 2400, height: 585 }}
      />
    </div>
  );
}
